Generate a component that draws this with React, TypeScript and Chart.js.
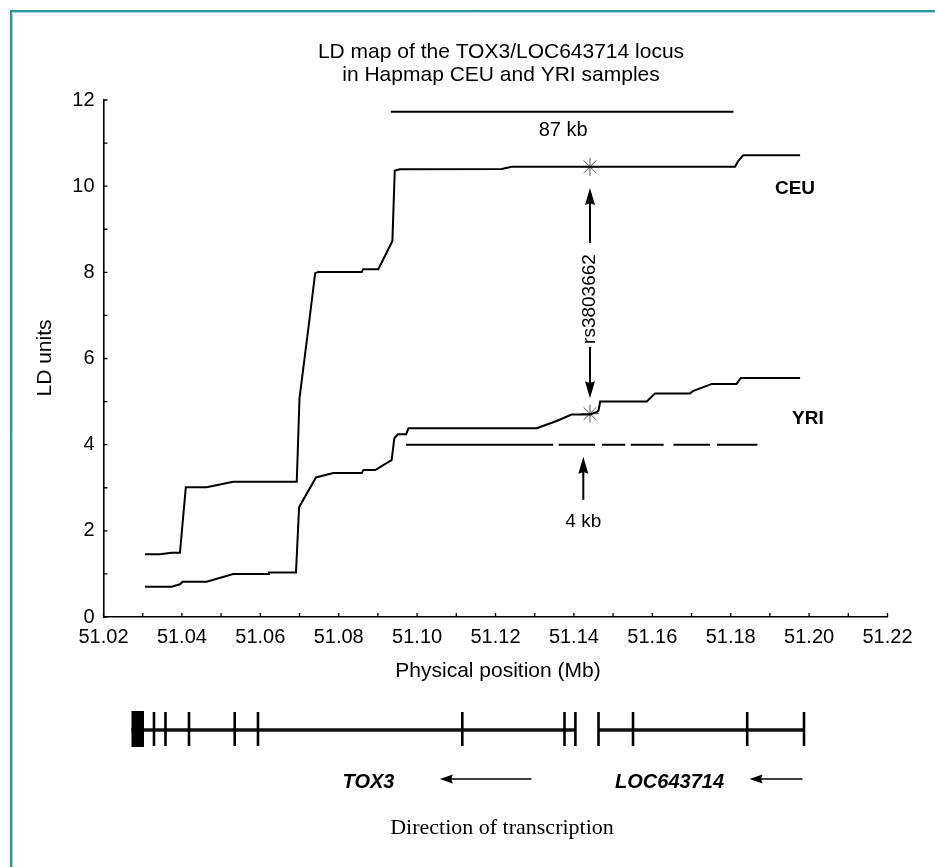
import React, { useEffect, useRef } from 'react';
import { Chart, registerables } from 'chart.js';

Chart.register(...registerables);

// ---------- data (Mb positions, LD units) ----------
const ceuX = [51.0306, 51.0344, 51.0374, 51.0395, 51.0410, 51.0463, 51.0531, 51.0693, 51.0700, 51.0722, 51.0740, 51.0748, 51.0859, 51.0862, 51.0901, 51.0937, 51.0943, 51.0956, 51.1216, 51.1241, 51.1811, 51.1819, 51.1832, 51.1977];
const ceuY = [1.455, 1.455, 1.49, 1.49, 3.01, 3.01, 3.14, 3.14, 5.08, 6.66, 7.98, 8.01, 8.01, 8.07, 8.07, 8.73, 10.36, 10.39, 10.40, 10.45, 10.45, 10.58, 10.72, 10.72];

const yriX = [51.0306, 51.0374, 51.0395, 51.0402, 51.0463, 51.0531, 51.0620, 51.0622, 51.0691, 51.0699, 51.0742, 51.0786, 51.0859, 51.0863, 51.0893, 51.0935, 51.0942, 51.0951, 51.0972, 51.0978, 51.1305, 51.1356, 51.1394, 51.1441, 51.1459, 51.1463, 51.1467, 51.1586, 51.1607, 51.1696, 51.1705, 51.1752, 51.1815, 51.1826, 51.1977];
const yriY = [0.703, 0.703, 0.76, 0.82, 0.82, 1.0, 1.0, 1.03, 1.03, 2.55, 3.24, 3.34, 3.34, 3.41, 3.41, 3.64, 4.15, 4.24, 4.24, 4.38, 4.38, 4.55, 4.70, 4.70, 4.76, 4.80, 5.0, 5.0, 5.19, 5.19, 5.25, 5.41, 5.41, 5.55, 5.55];

const snpName = 'rs3803662';
const snpX = 51.1441;
const snpY = [10.45, 4.72];
const snpArrowUp = [8.68, 9.96]; // from, tip
const snpArrowDown = [6.27, 5.08]; // from, tip
const snpLabelY = 7.38;

const span87X = [51.0933, 51.1807];
const span87Y = 11.73;
const span87Label = '87 kb';
const span87LabelY = 11.30;

const block4Y = 4.0;
const block4Segments = [
  [51.0972, 51.1347],
  [51.1361, 51.1454],
  [51.1472, 51.1531],
  [51.1545, 51.1629],
  [51.1654, 51.1747],
  [51.1765, 51.1868],
];
const block4ArrowX = 51.1424;
const block4Arrow = [2.72, 3.72]; // from, tip
const block4Label = '4 kb';
const block4LabelY = 2.2;

const seriesLabels = ['CEU', 'YRI'];
const seriesLabelX = [51.1964, 51.1997];
const seriesLabelY = [9.93, 4.6];

const xMin = 51.02;
const xMax = 51.22;
const yMin = 0;
const yMax = 12;

// gene track
const firstExonBox = [51.02714, 51.03033];
const exonMb = [51.03288, 51.03582, 51.04181, 51.05347, 51.05941, 51.11153, 51.13760, 51.14038, 51.14628, 51.15508, 51.18421, 51.19870];
const geneSpans = [[51.0271, 51.1404], [51.1463, 51.1987]];
const geneNames = ['TOX3', 'LOC643714'];
const geneLabelX = [51.0876, 51.1644];
const geneArrows = [[51.1292, 51.1058], [51.1983, 51.1848]]; // from, tip

const titleLines = ['LD map of the TOX3/LOC643714 locus', 'in Hapmap CEU and YRI samples'];
const xTitle = 'Physical position (Mb)';
const yTitle = 'LD units';
const footer = 'Direction of transcription';

const SANS = '"Liberation Sans", Arial, Helvetica, sans-serif';
const SERIF = '"Liberation Serif", "Times New Roman", serif';

function arrow(ctx: CanvasRenderingContext2D, x1: number, y1: number, x2: number, y2: number, headLen: number, headHalf: number, lw: number) {
  const ang = Math.atan2(y2 - y1, x2 - x1);
  const bx = x2 - headLen * Math.cos(ang);
  const by = y2 - headLen * Math.sin(ang);
  ctx.save();
  ctx.strokeStyle = '#000';
  ctx.fillStyle = '#000';
  ctx.lineWidth = lw;
  ctx.beginPath();
  ctx.moveTo(x1, y1);
  ctx.lineTo(bx + Math.cos(ang) * 2, by + Math.sin(ang) * 2);
  ctx.stroke();
  ctx.beginPath();
  ctx.moveTo(x2, y2);
  ctx.lineTo(bx - headHalf * Math.sin(ang), by + headHalf * Math.cos(ang));
  ctx.lineTo(bx + headHalf * 0.35 * Math.cos(ang), by + headHalf * 0.35 * Math.sin(ang));
  ctx.lineTo(bx + headHalf * Math.sin(ang), by - headHalf * Math.cos(ang));
  ctx.closePath();
  ctx.fill();
  ctx.restore();
}

const decorPlugin = {
  id: 'decor',
  beforeDraw(chart: any) {
    const ctx: CanvasRenderingContext2D = chart.ctx;
    ctx.save();
    ctx.fillStyle = '#fff';
    ctx.fillRect(0, 0, chart.width, chart.height);
    // frame (top + left)
    ctx.strokeStyle = '#2a97a3';
    ctx.lineWidth = 2;
    ctx.beginPath();
    ctx.moveTo(11, chart.height);
    ctx.lineTo(11, 11);
    ctx.lineTo(chart.width, 11);
    ctx.stroke();
    ctx.strokeStyle = '#a9d8dc';
    ctx.lineWidth = 1;
    ctx.beginPath();
    ctx.moveTo(12.5, chart.height);
    ctx.lineTo(12.5, 12.5);
    ctx.lineTo(chart.width, 12.5);
    ctx.stroke();
    ctx.restore();
  },
  afterDraw(chart: any) {
    const ctx: CanvasRenderingContext2D = chart.ctx;
    const xs = chart.scales.x;
    const ys = chart.scales.y;
    const X = (v: number) => xs.getPixelForValue(v);
    const Y = (v: number) => ys.getPixelForValue(v);
    const area = chart.chartArea;
    ctx.save();

    // inward tick marks
    ctx.strokeStyle = '#000';
    ctx.lineWidth = 1.3;
    ctx.beginPath();
    xs.ticks.forEach((t: any) => {
      const p = X(t.value);
      ctx.moveTo(p, area.bottom);
      ctx.lineTo(p, area.bottom - 4);
    });
    ys.ticks.forEach((t: any) => {
      const p = Y(t.value);
      ctx.moveTo(area.left, p);
      ctx.lineTo(area.left + 4, p);
    });
    ctx.stroke();

    // title
    ctx.fillStyle = '#000';
    ctx.textAlign = 'center';
    ctx.textBaseline = 'middle';
    ctx.font = `21px ${SANS}`;
    ctx.fillText(titleLines[0], 501, 52);
    ctx.fillText(titleLines[1], 501, 75);

    // axis titles
    ctx.font = `21px ${SANS}`;
    ctx.fillText(xTitle, 498, 671);
    ctx.save();
    ctx.translate(45, 358);
    ctx.rotate(-Math.PI / 2);
    ctx.fillText(yTitle, 0, 0);
    ctx.restore();

    // 87 kb span
    ctx.lineWidth = 2;
    ctx.beginPath();
    ctx.moveTo(X(span87X[0]), Y(span87Y));
    ctx.lineTo(X(span87X[1]), Y(span87Y));
    ctx.stroke();
    ctx.font = `20px ${SANS}`;
    ctx.fillText(span87Label, X((span87X[0] + span87X[1]) / 2) + 1, Y(span87LabelY));

    // SNP arrows and label
    const sx = X(snpX);
    arrow(ctx, sx, Y(snpArrowUp[0]), sx, Y(snpArrowUp[1]), 17, 5, 2);
    arrow(ctx, sx, Y(snpArrowDown[0]), sx, Y(snpArrowDown[1]), 17, 5, 2);
    ctx.save();
    ctx.translate(sx, Y(snpLabelY));
    ctx.rotate(-Math.PI / 2);
    ctx.font = `19px ${SANS}`;
    ctx.fillText(snpName, 0, 0);
    ctx.restore();

    // 4 kb arrow + label
    const bx = X(block4ArrowX);
    arrow(ctx, bx, Y(block4Arrow[0]), bx, Y(block4Arrow[1]), 17, 5, 2);
    ctx.font = `19px ${SANS}`;
    ctx.fillText(block4Label, bx, Y(block4LabelY));

    // series labels
    ctx.font = `bold 19px ${SANS}`;
    seriesLabels.forEach((s, i) => ctx.fillText(s, X(seriesLabelX[i]), Y(seriesLabelY[i])));

    // gene track
    const trackY = 730;
    ctx.strokeStyle = '#111';
    ctx.lineWidth = 3.5;
    geneSpans.forEach(([a, b]) => {
      ctx.beginPath();
      ctx.moveTo(X(a), trackY);
      ctx.lineTo(X(b), trackY);
      ctx.stroke();
    });
    ctx.fillStyle = '#000';
    ctx.fillRect(X(firstExonBox[0]), 711, X(firstExonBox[1]) - X(firstExonBox[0]), 36);
    ctx.lineWidth = 2.6;
    ctx.strokeStyle = '#000';
    exonMb.forEach((m) => {
      ctx.beginPath();
      ctx.moveTo(X(m), 712);
      ctx.lineTo(X(m), 746);
      ctx.stroke();
    });
    ctx.font = `italic bold 20px ${SANS}`;
    geneNames.forEach((g, i) => ctx.fillText(g, X(geneLabelX[i]), 782));
    geneArrows.forEach(([a, b]) => arrow(ctx, X(a), 779, X(b), 779, 13, 4.5, 1.6));

    // footer
    ctx.font = `22px ${SERIF}`;
    ctx.fillText(footer, 502, 828);

    ctx.restore();
  },
};

export default function App() {
  const ref = useRef<HTMLCanvasElement | null>(null);
  useEffect(() => {
    if (!ref.current) return;
    const ceu = ceuX.map((x, i) => ({ x, y: ceuY[i] }));
    const yri = yriX.map((x, i) => ({ x, y: yriY[i] }));
    const snp = snpY.map((y) => ({ x: snpX, y }));
    const dashed: { x: number; y: number | null }[] = [];
    block4Segments.forEach(([a, b], i) => {
      if (i > 0) dashed.push({ x: (a + block4Segments[i - 1][1]) / 2, y: null });
      dashed.push({ x: a, y: block4Y }, { x: b, y: block4Y });
    });
    const chart = new Chart(ref.current, {
      type: 'line',
      data: {
        datasets: [
          { label: 'CEU', data: ceu, borderColor: '#000', borderWidth: 2, pointRadius: 0, tension: 0, fill: false },
          { label: 'YRI', data: yri, borderColor: '#000', borderWidth: 2, pointRadius: 0, tension: 0, fill: false },
          { label: '4 kb', data: dashed as any, borderColor: '#000', borderWidth: 2, pointRadius: 0, spanGaps: false, fill: false },
          { label: 'SNP', data: snp, showLine: false, pointStyle: 'star', pointRadius: 9, pointBorderColor: '#555', pointBorderWidth: 1, borderColor: '#555', backgroundColor: '#555' },
        ],
      },
      options: {
        responsive: false,
        animation: false,
        events: [],
        layout: { padding: { left: 0, right: 47.5, top: 100, bottom: 0 } },
        plugins: { legend: { display: false }, tooltip: { enabled: false }, title: { display: false } },
        scales: {
          x: {
            type: 'linear',
            min: xMin,
            max: xMax,
            grid: { display: false, drawTicks: false },
            border: { display: true, color: '#000', width: 1.6 },
            ticks: {
              stepSize: 0.01,
              autoSkip: false,
              maxRotation: 0,
              padding: 8,
              color: '#000',
              font: { family: SANS, size: 20 },
              callback: (v: any) => {
                const k = Math.round(Number(v) * 100);
                return k % 2 === 0 ? (k / 100).toFixed(2) : '';
              },
            },
            afterFit: (s: any) => { s.height = 250; },
          },
          y: {
            type: 'linear',
            min: yMin,
            max: yMax,
            grid: { display: false, drawTicks: false },
            border: { display: true, color: '#000', width: 1.6 },
            ticks: {
              stepSize: 1,
              autoSkip: false,
              padding: 9,
              color: '#000',
              font: { family: SANS, size: 20 },
              callback: (v: any) => (Number(v) % 2 === 0 ? String(v) : ''),
            },
            afterFit: (s: any) => { s.width = 103.5; },
          },
        },
      },
      plugins: [decorPlugin],
    });
    return () => chart.destroy();
  }, []);
  return (
    <div style={{ position: 'absolute', left: 0, top: 0, width: 935, height: 867, background: '#fff' }}>
      <canvas ref={ref} width={935} height={867} style={{ display: 'block', width: 935, height: 867 }} />
    </div>
  );
}
